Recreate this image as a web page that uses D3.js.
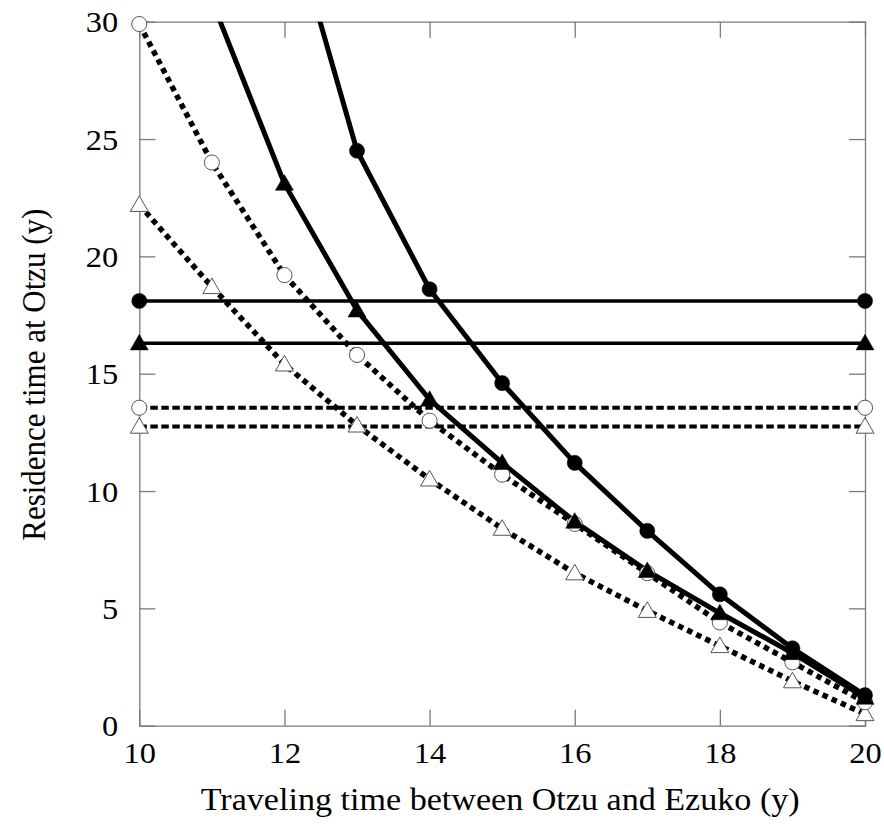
<!DOCTYPE html>
<html>
<head>
<meta charset="utf-8">
<script src="https://cdn.jsdelivr.net/npm/d3@7"></script>
<style>
  html, body { margin: 0; padding: 0; background: #fff; }
  svg { display: block; }
</style>
</head>
<body>
<div id="chart"></div>
<script>
// ---- data ----
const xTicks = [10, 12, 14, 16, 18, 20];
const yTicks = [0, 5, 10, 15, 20, 25, 30];

// curve series (x = traveling time, y = residence time)
const filledCircleX = [12, 13, 14, 15, 16, 17, 18, 19, 20];
const filledCircleY = [35.3, 24.5, 18.6, 14.6, 11.2, 8.3, 5.6, 3.3, 1.3];

const filledTriangleX = [11, 12, 13, 14, 15, 16, 17, 18, 19, 20];
const filledTriangleY = [30.9, 23.1, 17.7, 13.9, 11.2, 8.7, 6.6, 4.8, 3.1, 1.2];

const openCircleX = [10, 11, 12, 13, 14, 15, 16, 17, 18, 19, 20];
const openCircleY = [29.9, 24.0, 19.2, 15.8, 13.0, 10.7, 8.6, 6.5, 4.4, 2.7, 1.0];

const openTriangleX = [10, 11, 12, 13, 14, 15, 16, 17, 18, 19, 20];
const openTriangleY = [22.2, 18.7, 15.4, 12.8, 10.5, 8.4, 6.5, 4.9, 3.4, 1.9, 0.5];

// constant (horizontal) series
const flatX = [10, 20];
const flatFilledCircle = 18.1;
const flatFilledTriangle = 16.3;
const flatOpenCircle = 13.55;
const flatOpenTriangle = 12.75;

const xLabel = "Traveling time between Otzu and Ezuko (y)";
const yLabel = "Residence time at Otzu (y)";

// ---- layout ----
const W = 884, H = 824;
const margin = { left: 139.3, right: 19, top: 21.7, bottom: 98.3 };
const iw = W - margin.left - margin.right;
const ih = H - margin.top - margin.bottom;
const FONT = "'Liberation Serif', 'Times New Roman', serif";

const svg = d3.select("#chart").append("svg").attr("width", W).attr("height", H);
const g = svg.append("g").attr("transform", `translate(${margin.left},${margin.top})`);

const x = d3.scaleLinear().domain([10, 20]).range([0, iw]);
const y = d3.scaleLinear().domain([0, 30]).range([ih, 0]);

svg.append("defs").append("clipPath").attr("id", "clip")
  .append("rect").attr("x", 0).attr("y", 0).attr("width", iw).attr("height", ih);

const axisColor = "#7a7a7a";
const tickLen = 16;

// axes
const gx = g.append("g").attr("transform", `translate(0,${ih})`)
  .call(d3.axisBottom(x).tickValues(xTicks).tickSize(-tickLen).tickPadding(0).tickFormat(d3.format("d")));
const gxTop = g.append("g")
  .call(d3.axisTop(x).tickValues(xTicks).tickSize(-tickLen).tickFormat(""));
const gy = g.append("g")
  .call(d3.axisLeft(y).tickValues(yTicks).tickSize(-tickLen).tickPadding(0).tickFormat(d3.format("d")));
const gyR = g.append("g").attr("transform", `translate(${iw},0)`)
  .call(d3.axisRight(y).tickValues(yTicks).tickSize(-tickLen).tickFormat(""));

[gx, gxTop, gy, gyR].forEach(a => {
  a.attr("font-family", null).attr("font-size", null);
  a.select(".domain").attr("stroke", axisColor).attr("stroke-width", 1.3);
  a.selectAll(".tick line").attr("stroke", axisColor).attr("stroke-width", 1.3);
});
gx.selectAll(".tick text")
  .style("font-family", FONT).style("font-size", "29px").attr("fill", "#000")
  .attr("dy", null).attr("y", null)
  .attr("transform", "translate(0,37) scale(1.12,1)");
gy.selectAll(".tick text")
  .style("font-family", FONT).style("font-size", "29px").attr("fill", "#000")
  .attr("x", null).attr("dy", null)
  .attr("transform", "translate(-21,10) scale(1.12,1)");

// hide end ticks that coincide with frame
gx.selectAll(".tick").filter(d => d === 10 || d === 20).select("line").remove();
gxTop.selectAll(".tick").filter(d => d === 10 || d === 20).select("line").remove();
gy.selectAll(".tick").filter(d => d === 0 || d === 30).select("line").remove();
gyR.selectAll(".tick").filter(d => d === 0 || d === 30).select("line").remove();

// labels
svg.append("text")
  .attr("transform", `translate(${margin.left + iw / 2 - 2},810) scale(1.1,1)`)
  .attr("text-anchor", "middle").style("font-family", FONT).style("font-size", "31px")
  .attr("fill", "#000").text(xLabel);
svg.append("text")
  .attr("transform", `translate(45,${margin.top + ih / 2 + 1}) rotate(-90) scale(1,1.1)`)
  .attr("text-anchor", "middle").style("font-family", FONT).style("font-size", "31px")
  .attr("fill", "#000").text(yLabel);

// ---- series ----
const line = d3.line().x(d => x(d[0])).y(d => y(d[1]));
const zip = (xs, ys) => xs.map((v, i) => [v, ys[i]]);

const series = [
  { pts: zip(flatX, [flatOpenTriangle, flatOpenTriangle]), style: "dash", marker: "openTri" },
  { pts: zip(flatX, [flatOpenCircle, flatOpenCircle]), style: "dash", marker: "openCirc" },
  { pts: zip(openTriangleX, openTriangleY), style: "dot", marker: "openTri" },
  { pts: zip(openCircleX, openCircleY), style: "dot", marker: "openCirc" },
  { pts: zip(flatX, [flatFilledTriangle, flatFilledTriangle]), style: "flat", marker: "fillTri" },
  { pts: zip(flatX, [flatFilledCircle, flatFilledCircle]), style: "flat", marker: "fillCirc" },
  { pts: zip(filledTriangleX, filledTriangleY), style: "solid", marker: "fillTri" },
  { pts: zip(filledCircleX, filledCircleY), style: "solid", marker: "fillCirc" }
];

const styles = {
  dash: { w: 4.2, dash: "7.5,3.5" },
  dot: { w: 5.5, dash: "5.5,4.5" },
  flat: { w: 3.5, dash: null },
  solid: { w: 5, dash: null }
};

const plot = g.append("g");
const lineLayer = plot.append("g").attr("clip-path", "url(#clip)");
const markLayer = plot.append("g");

series.forEach(s => {
  const st = styles[s.style];
  lineLayer.append("path").datum(s.pts)
    .attr("d", line).attr("fill", "none").attr("stroke", "#000")
    .attr("stroke-width", st.w).attr("stroke-dasharray", st.dash)
    .attr("stroke-linejoin", "round");
});

const tri = d3.symbol().type(d3.symbolTriangle).size(140);
const circ = d3.symbol().type(d3.symbolCircle).size(180);

series.forEach(s => {
  const pts = s.pts.filter(p => p[1] <= 30.5);
  const isTri = s.marker.includes("Tri");
  const filled = s.marker.startsWith("fill");
  markLayer.append("g").selectAll("path").data(pts).join("path")
    .attr("transform", p => `translate(${x(p[0])},${y(p[1]) + (isTri ? 1.5 : 0)})`)
    .attr("d", isTri ? tri : circ)
    .attr("fill", filled ? "#000" : "#fff")
    .attr("stroke", filled ? "#000" : "#555")
    .attr("stroke-width", filled ? 0.5 : 1);
});
</script>
</body>
</html>
